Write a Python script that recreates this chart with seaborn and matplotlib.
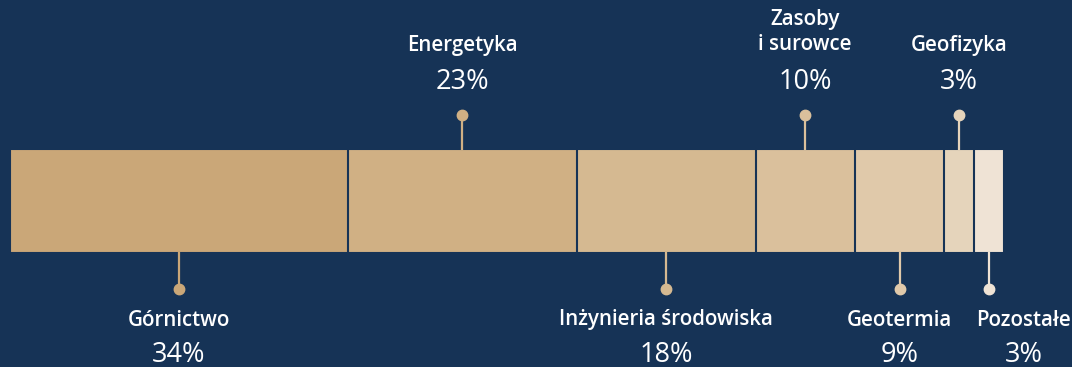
import matplotlib
matplotlib.use("Agg")
import matplotlib.pyplot as plt
import seaborn as sns
import numpy as np
import pandas as pd

# ---- data ----
categories = ["Górnictwo", "Energetyka", "Inżynieria środowiska", "Zasoby\ni surowce",
              "Geotermia", "Geofizyka", "Pozostałe"]
values = [34, 23, 18, 10, 9, 3, 3]
pct_labels = ["34%", "23%", "18%", "10%", "9%", "3%", "3%"]
sides = ["below", "above", "below", "above", "below", "above", "below"]
colors = ["#caa778", "#d0b084", "#d5b991", "#dac09c", "#e0c9aa", "#e5d4bb", "#efe3d5"]

BG = "#163356"

sns.set_theme(style="white")
plt.rcParams["font.family"] = ["Open Sans", "DejaVu Sans"]

W, H = 1072, 367
fig = plt.figure(figsize=(W / 100, H / 100), dpi=100, facecolor=BG)
ax = fig.add_axes([0, 0, 1, 1])
ax.set_facecolor(BG)

# pixel-based layout helpers (layout only)
x0_px, x1_px = 10, 1004
ppu = (x1_px - x0_px) / 100.0
bar_top_px, bar_bot_px = 149, 253
ypu = bar_bot_px - bar_top_px
yc_px = (bar_top_px + bar_bot_px) / 2


def px_x(p):
    return (p - x0_px) / ppu


def px_y(p):
    return (p - yc_px) / ypu


ax.set_xlim(px_x(0), px_x(W))

cum = np.cumsum(values)
df = pd.DataFrame({"cat": categories, "value": values, "cum": cum, "color": colors})

# stacked bar: draw cumulative totals from largest to smallest
for i in range(len(df) - 1, -1, -1):
    sns.barplot(x=[df["cum"][i]], y=["bar"], orient="h", color=df["color"][i],
                saturation=1, width=1.0, edgecolor=BG, linewidth=1.5, ax=ax)

ax.set_ylim(px_y(H), px_y(0))
ax.set_axis_off()

starts = cum - np.array(values)
centers = starts + np.array(values) / 2.0

LBL = dict(color="white", ha="center", va="center", fontsize=14.8, fontweight="semibold")
PCT = dict(color="white", ha="center", va="center", fontsize=19.5)

for i, row in df.iterrows():
    cx = centers[i]
    c = row["color"]
    label = row["cat"]
    tx = cx
    if label == "Pozostałe":
        tx = px_x(1024)
    if sides[i] == "above":
        ax.plot([cx, cx], [px_y(150), px_y(115)], color=c, lw=1.6, solid_capstyle="butt", zorder=5)
        ax.plot([cx], [px_y(115)], "o", color=c, ms=7.5, zorder=6)
        if "\n" in label:
            l1, l2 = label.split("\n")
            ax.text(tx, px_y(19), l1, **LBL)
            ax.text(tx, px_y(45), l2, **LBL)
        else:
            ax.text(tx, px_y(45), label, **LBL)
        ax.text(tx, px_y(82), pct_labels[i], **PCT)
    else:
        ax.plot([cx, cx], [px_y(252), px_y(289)], color=c, lw=1.6, solid_capstyle="butt", zorder=5)
        ax.plot([cx], [px_y(289)], "o", color=c, ms=7.5, zorder=6)
        ax.text(tx, px_y(320), label, **LBL)
        ax.text(tx, px_y(355), pct_labels[i], **PCT)

fig.savefig("out.png", dpi=100, facecolor=BG)
